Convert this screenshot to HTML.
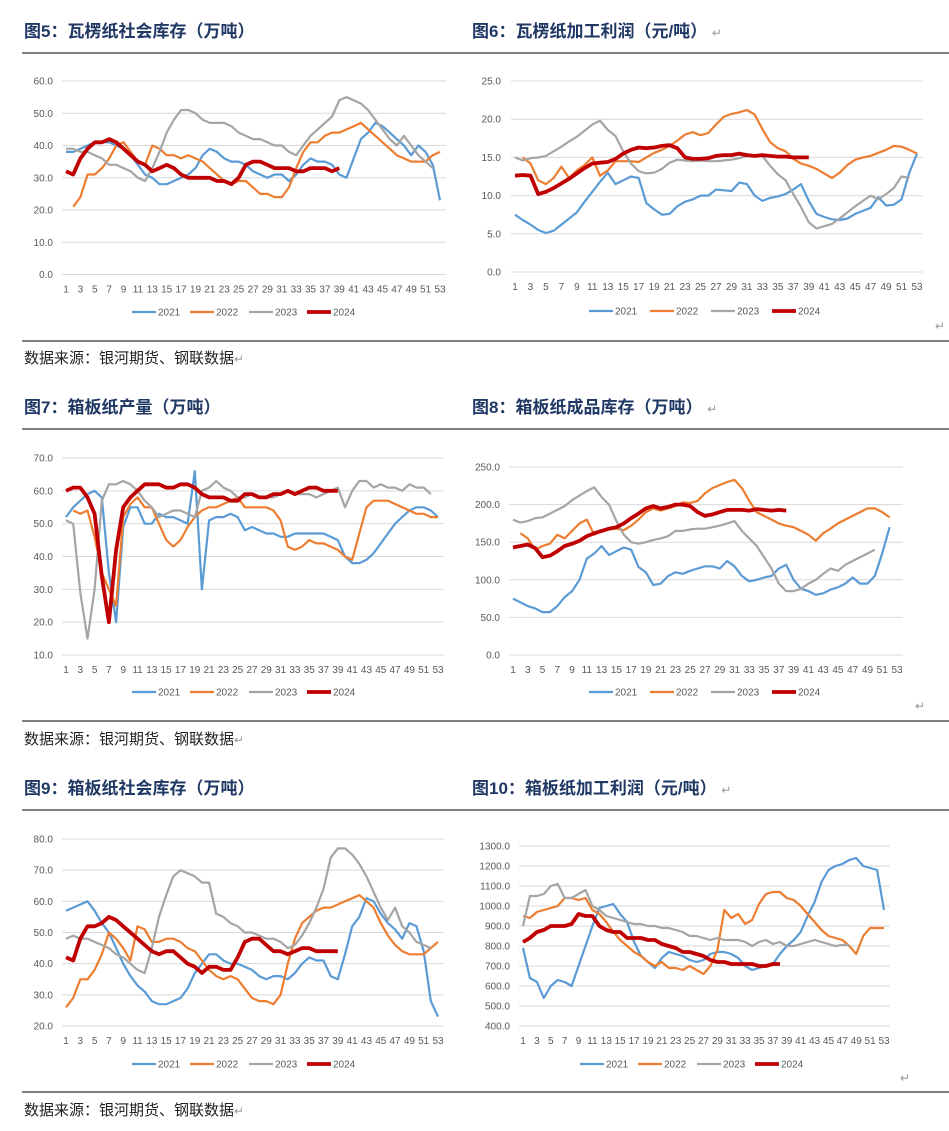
<!DOCTYPE html>
<html><head><meta charset="utf-8"><style>
body{margin:0;background:#fff;width:949px;height:1131px;overflow:hidden}
svg{display:block}
.t{font-family:"Liberation Sans","Noto Sans CJK SC",sans-serif;font-weight:bold;font-size:17px;fill:#1f3864}
.s{font-family:"Liberation Sans","Noto Sans CJK SC",sans-serif;font-size:15px;fill:#222}
.tk{font-family:"Liberation Sans",sans-serif;font-size:10px;fill:#595959}
</style></head><body>
<svg id="page" width="949" height="1131" xmlns="http://www.w3.org/2000/svg">
<text class="t" x="24" y="37">图5：瓦楞纸社会库存（万吨）</text>
<text class="t" x="472" y="37">图6：瓦楞纸加工利润（元/吨） <tspan fill="#999" font-weight="normal" font-size="12">↵</tspan></text>
<line x1="22" y1="53" x2="949" y2="53" stroke="#000" stroke-width="1"/>
<line x1="22" y1="341" x2="949" y2="341" stroke="#000" stroke-width="1"/>
<text class="s" x="24" y="363">数据来源：银河期货、钢联数据<tspan fill="#999" font-size="12">↵</tspan></text>
<text class="t" x="24" y="413">图7：箱板纸产量（万吨）</text>
<text class="t" x="472" y="413">图8：箱板纸成品库存（万吨） <tspan fill="#999" font-weight="normal" font-size="12">↵</tspan></text>
<line x1="22" y1="429" x2="949" y2="429" stroke="#000" stroke-width="1"/>
<line x1="22" y1="721" x2="949" y2="721" stroke="#000" stroke-width="1"/>
<text class="s" x="24" y="744">数据来源：银河期货、钢联数据<tspan fill="#999" font-size="12">↵</tspan></text>
<text class="t" x="24" y="794">图9：箱板纸社会库存（万吨）</text>
<text class="t" x="472" y="794">图10：箱板纸加工利润（元/吨） <tspan fill="#999" font-weight="normal" font-size="12">↵</tspan></text>
<line x1="22" y1="810" x2="949" y2="810" stroke="#000" stroke-width="1"/>
<line x1="22" y1="1092" x2="949" y2="1092" stroke="#000" stroke-width="1"/>
<text class="s" x="24" y="1115">数据来源：银河期货、钢联数据<tspan fill="#999" font-size="12">↵</tspan></text>
<text x="935" y="330" font-size="12" fill="#999">↵</text>
<text x="915" y="710" font-size="12" fill="#999">↵</text>
<text x="900" y="1082" font-size="12" fill="#999">↵</text>
</svg>
<script>
const seriesNames=["2021","2022","2023","2024"];
// chart5
const c5_2021=[38,38,39,40,41,41,41,40,39,37,34,31,30,28,28,29,30,31,33,37,39,38,36,35,35,34,32,31,30,31,31,29,31,34,36,35,35,34,31,30,36,42,44,47,46,44,42,40,37,40,38,34,23];
const c5_2022=[null,21,24,31,31,33,36,40,41,38,35,34,40,39,37,37,36,37,36,35,33,31,29,28,29,29,27,25,25,24,24,27,33,38,41,41,43,44,44,45,46,47,45,43,41,39,37,36,35,35,35,37,38];
const c5_2023=[39,39,38,38,37,36,34,34,33,32,30,29,33,38,44,48,51,51,50,48,47,47,47,46,44,43,42,42,41,40,40,38,37,40,43,45,47,49,54,55,54,53,51,48,45,42,40,43,40,37,35,33];
const c5_2024=[32,31,36,39,41,41,42,41,39,37,35,34,32,33,34,33,31,30,30,30,30,29,29,28,30,34,35,35,34,33,33,33,32,32,33,33,33,32,33];
// chart6
const c6_2021=[7.5,6.8,6.2,5.5,5.1,5.4,6.2,7,7.8,9.2,10.5,11.8,13,11.5,12,12.5,12.3,9,8.2,7.5,7.6,8.6,9.2,9.5,10,10,10.8,10.7,10.6,11.7,11.5,10,9.3,9.7,9.9,10.2,10.8,11.5,9.3,7.6,7.2,6.9,6.8,7,7.6,8,8.4,9.8,8.7,8.8,9.5,13,15.5];
const c6_2022=[null,15,14.2,12,11.5,12.3,13.8,12.3,13.3,14,15,12.6,13.3,14.5,14.5,14.5,14.4,15,15.6,16,16.5,17.2,18,18.3,17.9,18.2,19.3,20.3,20.7,20.9,21.2,20.6,18.7,17,16.2,15.8,14.8,14.2,13.9,13.5,12.9,12.3,13,14,14.7,15,15.2,15.6,16,16.5,16.4,16,15.5];
const c6_2023=[15,14.6,14.9,15,15.2,15.8,16.4,17.1,17.7,18.5,19.3,19.8,18.6,17.8,15.8,14.2,13.2,12.9,13,13.5,14.3,14.7,14.6,14.5,14.6,14.5,14.5,14.6,14.7,14.9,15.2,15.3,15.2,13.9,12.8,12,10.2,8.5,6.5,5.7,6,6.3,7,7.8,8.6,9.3,10,9.5,10.2,11,12.5,12.3];
const c6_2024=[12.6,12.7,12.6,10.2,10.5,11,11.6,12.2,12.9,13.6,14.2,14.3,14.4,14.8,15.5,16,16.3,16.2,16.3,16.5,16.6,16.2,15,14.8,14.8,14.9,15.2,15.3,15.3,15.5,15.3,15.2,15.3,15.2,15.1,15.1,15,15,15];
// chart7
const c7_2021=[52,55,57,59,60,58,35,20,49,55,55,50,50,53,52,52,51,50,66,30,51,52,52,53,52,48,49,48,47,47,46,46,47,47,47,47,47,46,45,40,38,38,39,41,44,47,50,52,54,55,55,54,52];
const c7_2022=[null,54,53,54,46,35,30,25,52,56,58,55,55,50,45,43,45,49,52,54,55,55,56,57,58,55,55,55,55,54,51,43,42,43,45,44,44,43,42,40,39,47,55,57,57,57,56,55,54,53,53,52,52];
const c7_2023=[51,50,29,15,30,57,62,62,63,62,60,57,55,52,53,54,54,53,52,60,61,63,61,60,58,58,59,58,58,58,59,60,59,59,59,58,59,60,61,55,60,63,63,61,62,61,61,60,62,61,61,59];
const c7_2024=[60,61,61,58,53,34,20,42,55,58,60,62,62,62,61,61,62,62,61,59,58,58,58,57,57,59,59,58,58,59,59,60,59,60,61,61,60,60,60];
// chart8
const c8_2021=[75,70,65,62,57,57,65,77,85,100,128,135,145,133,138,143,140,117,110,93,95,105,110,108,112,115,118,118,115,125,118,105,98,100,103,105,115,120,100,88,85,80,82,87,90,95,103,95,95,105,135,170];
const c8_2022=[null,162,155,140,145,148,160,155,165,175,180,160,165,167,168,166,172,180,190,195,192,195,198,203,202,205,215,222,226,230,233,222,205,190,185,180,175,172,170,165,160,152,162,168,175,180,185,190,195,195,190,183];
const c8_2023=[180,176,178,182,183,188,193,198,206,212,218,223,210,200,178,160,150,148,150,153,155,158,165,165,167,168,168,170,172,175,178,165,155,145,130,115,95,85,85,88,95,100,108,115,112,120,125,130,135,140];
const c8_2024=[143,145,147,142,130,132,138,145,148,152,158,162,165,168,170,175,182,188,195,198,195,197,200,200,198,190,185,187,190,193,193,193,192,194,193,192,193,192];
// chart9
const c9_2021=[57,58,59,60,57,53,50,45,40,36,33,31,28,27,27,28,29,32,37,40,43,43,41,40,40,39,38,36,35,36,36,35,37,40,42,41,41,36,35,43,52,55,61,60,56,53,51,48,53,52,44,28,23];
const c9_2022=[26,29,35,35,38,43,50,48,45,41,52,51,47,47,48,48,47,45,44,41,38,36,35,36,35,32,29,28,28,27,30,40,48,53,55,57,58,58,59,60,61,62,60,58,53,49,46,44,43,43,43,45,47];
const c9_2023=[48,49,48,48,47,46,45,43,42,40,38,37,45,55,62,68,70,69,68,66,66,56,55,53,52,50,50,49,48,48,47,45,46,49,53,58,64,74,77,77,75,72,68,63,58,54,58,52,50,47,46,45];
const c9_2024=[42,41,48,52,52,53,55,54,52,50,48,46,44,43,44,44,42,40,39,37,39,39,38,38,42,47,48,48,46,44,44,43,44,45,45,44,44,44,44];
// chart10
const c10_2021=[790,640,620,540,600,630,620,600,700,800,900,990,1000,1010,960,920,820,750,720,690,740,770,760,750,730,720,730,760,770,770,760,740,700,680,690,700,710,760,800,830,870,950,1020,1120,1180,1200,1210,1230,1240,1200,1190,1180,980];
const c10_2022=[950,940,970,980,990,1000,1040,1040,1030,1040,980,960,920,870,830,800,770,750,720,700,720,690,690,680,700,680,660,700,780,980,940,960,910,930,1010,1060,1070,1070,1040,1030,1000,960,920,880,850,840,830,800,760,850,890,890,890];
const c10_2023=[900,1050,1050,1060,1100,1110,1040,1040,1060,1080,1000,980,950,940,930,920,910,910,900,900,890,890,880,870,850,850,840,830,840,830,830,830,820,800,820,830,810,820,800,800,810,820,830,820,810,800,805,805];
const c10_2024=[820,840,870,880,900,900,900,910,960,950,950,900,880,870,870,840,840,840,830,830,810,800,790,770,770,760,750,730,720,720,710,710,710,710,700,700,710,710];

const colors=["#5b9bd5","#ed7d31","#a5a5a5","#c00000"];
const widths=[2.2,2.2,2.2,3.8];
const NS="http://www.w3.org/2000/svg";
const svg=document.getElementById('page');
function mk(tag,attrs){const e=document.createElementNS(NS,tag);for(const k in attrs)e.setAttribute(k,attrs[k]);svg.appendChild(e);return e;}

function chart(id,series,cfg){
  const xS=w=>cfg.x1+(w-1)*(cfg.x53-cfg.x1)/52;
  const yS=v=>cfg.yb+(v-cfg.ymin)*(cfg.yt-cfg.yb)/(cfg.ymax-cfg.ymin);
  for(let v=cfg.ymin;v<=cfg.ymax+1e-9;v+=cfg.step){
    const g=mk('line',{x1:cfg.x1-4,x2:cfg.x53+6,y1:yS(v),y2:yS(v),stroke:'#d9d9d9','stroke-width':1});
    
    
    const t=mk('text',{x:cfg.lx,y:yS(v)+3.5,'text-anchor':'end',class:'tk'});
    t.textContent=v.toFixed(1);
    
    
  }
  for(let w=1;w<=53;w+=2){
    const t=mk('text',{x:xS(w),y:yS(cfg.ymin)+18,'text-anchor':'middle',class:'tk'});
    t.textContent=w;
    
    
  }
  series.forEach((arr,i)=>{
    let d='';let pen=false;
    arr.forEach((v,j)=>{if(v==null){pen=false;return;}d+=(pen?'L':'M')+xS(j+1).toFixed(1)+','+yS(v).toFixed(1);pen=true;});
    const p=mk('path',{d:d,fill:'none',stroke:colors[i],'stroke-width':widths[i],'stroke-linejoin':'round'});
    
    
  });
  cfg.leg.forEach((lx,i)=>{
    const l=mk('line',{x1:lx,x2:lx+24,y1:cfg.ly,y2:cfg.ly,stroke:colors[i],'stroke-width':widths[i]});
    
    
    const t=mk('text',{x:lx+26,y:cfg.ly+3.5,class:'tk'});
    t.textContent=seriesNames[i];
    
    
  });
}
const legL=[132,190,249,307], legR=[589,650,711,772];
chart('chart5',[c5_2021,c5_2022,c5_2023,c5_2024],{x1:66,x53:440,ymin:0,ymax:60,step:10,yb:274.5,yt:81,lx:53,ly:312,leg:legL});
chart('chart6',[c6_2021,c6_2022,c6_2023,c6_2024],{x1:515,x53:917,ymin:0,ymax:25,step:5,yb:272,yt:81,lx:501,ly:311,leg:legR});
chart('chart7',[c7_2021,c7_2022,c7_2023,c7_2024],{x1:66,x53:438,ymin:10,ymax:70,step:10,yb:655,yt:458,lx:53,ly:692,leg:legL});
chart('chart8',[c8_2021,c8_2022,c8_2023,c8_2024],{x1:513,x53:897,ymin:0,ymax:250,step:50,yb:655,yt:467,lx:500,ly:692,leg:legR});
chart('chart9',[c9_2021,c9_2022,c9_2023,c9_2024],{x1:66,x53:438,ymin:20,ymax:80,step:10,yb:1026,yt:839,lx:53,ly:1064,leg:legL});
chart('chart10',[c10_2021,c10_2022,c10_2023,c10_2024],{x1:523,x53:884,ymin:400,ymax:1300,step:100,yb:1026,yt:846,lx:510,ly:1064,leg:[580,638,697,755]});
</script>
</body></html>
